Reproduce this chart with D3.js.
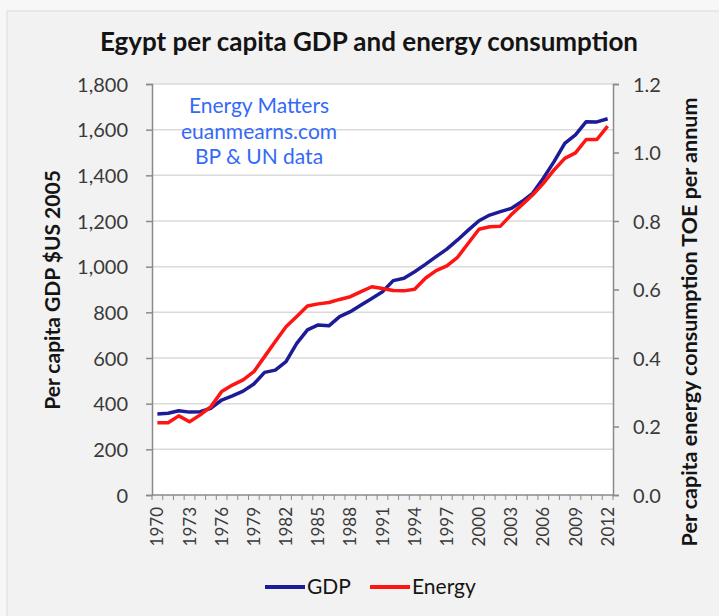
<!DOCTYPE html>
<html>
<head>
<meta charset="utf-8">
<script src="https://cdn.jsdelivr.net/npm/d3@7"></script>
<style>
  body { margin: 0; background: #f7f7f7; }
  text { font-family: Lato, "Open Sans", sans-serif; }
</style>
</head>
<body>
<script>
const years = [1970, 1971, 1972, 1973, 1974, 1975, 1976, 1977, 1978, 1979, 1980, 1981, 1982, 1983, 1984, 1985, 1986, 1987, 1988, 1989, 1990, 1991, 1992, 1993, 1994, 1995, 1996, 1997, 1998, 1999, 2000, 2001, 2002, 2003, 2004, 2005, 2006, 2007, 2008, 2009, 2010, 2011, 2012]
const gdp = [355, 358, 369, 363, 365, 380, 416, 434, 455, 486, 537, 547, 584, 664, 723, 745, 741, 781, 803, 832, 861, 890, 939, 949, 978, 1010, 1044, 1077, 1117, 1160, 1201, 1226, 1241, 1255, 1285, 1321, 1387, 1460, 1540, 1577, 1635, 1634, 1648]
const energy = [0.211, 0.211, 0.231, 0.214, 0.234, 0.258, 0.302, 0.321, 0.336, 0.36, 0.404, 0.448, 0.491, 0.521, 0.552, 0.558, 0.562, 0.571, 0.579, 0.594, 0.608, 0.603, 0.597, 0.596, 0.601, 0.633, 0.655, 0.669, 0.694, 0.735, 0.776, 0.783, 0.785, 0.818, 0.847, 0.876, 0.91, 0.949, 0.983, 0.999, 1.038, 1.038, 1.077]
const yearLabels = [1970, 1973, 1976, 1979, 1982, 1985, 1988, 1991, 1994, 1997, 2000, 2003, 2006, 2009, 2012]
const gdpTicks = [0, 200, 400, 600, 800, 1000, 1200, 1400, 1600, 1800]
const energyTicks = [0, 0.2, 0.4, 0.6, 0.8, 1.0, 1.2]
const notes = ['Energy Matters', 'euanmearns.com', 'BP & UN data']

const width = 719
const height = 616
const plotLeft = 152, plotRight = 613, plotTop = 84, plotBottom = 495
const gdpColor = '#1c1c96'
const energyColor = '#ff1414'

const svg = d3.select('body').append('svg').attr('width', width).attr('height', height)

svg.append('rect').attr('x', 7).attr('y', 11).attr('width', 720).attr('height', 620)
    .attr('fill', '#f2f2f2').attr('stroke', '#dcdcdc')

const x = d3.scaleBand().domain(years).range([plotLeft, plotRight])
const yGdp = d3.scaleLinear().domain([0, 1800]).range([plotBottom, plotTop])
const yEnergy = d3.scaleLinear().domain([0, 1.2]).range([plotBottom, plotTop])

svg.append('rect').attr('x', plotLeft).attr('y', plotTop).attr('width', plotRight - plotLeft).attr('height', plotBottom - plotTop).attr('fill', '#fff')

// gridlines
svg.append('g').selectAll('line').data(gdpTicks.slice(1)).enter().append('line')
    .attr('x1', plotLeft).attr('x2', plotRight)
    .attr('y1', d => yGdp(d)).attr('y2', d => yGdp(d))
    .attr('stroke', '#dadada').attr('stroke-width', 1.5)

const leftAxis = svg.append('g').attr('transform', `translate(${plotLeft},0)`)
    .call(d3.axisLeft(yGdp).tickValues(gdpTicks).tickSize(6).tickPadding(18).tickFormat(d3.format(',')))
const rightAxis = svg.append('g').attr('transform', `translate(${plotRight},0)`)
    .call(d3.axisRight(yEnergy).tickValues(energyTicks).tickSize(6).tickPadding(14).tickFormat(d3.format('.1f')))

;[leftAxis, rightAxis].forEach(a => {
    a.select('.domain').attr('stroke', '#8a8a8a').attr('stroke-width', 1.5)
    a.selectAll('.tick line').attr('stroke', '#8a8a8a').attr('stroke-width', 1.5)
    a.selectAll('.tick text').attr('fill', '#3a3a3a').style('font-size', '20px').attr('dy', '0.36em')
})

// x axis: ticks between categories
const xAxis = svg.append('g')
xAxis.append('line').attr('x1', plotLeft).attr('x2', plotRight).attr('y1', plotBottom).attr('y2', plotBottom)
    .attr('stroke', '#8a8a8a').attr('stroke-width', 1.5)
xAxis.selectAll('line.t').data(years.concat([null])).enter().append('line').attr('class', 't')
    .attr('x1', (d, i) => plotLeft + i * x.step()).attr('x2', (d, i) => plotLeft + i * x.step())
    .attr('y1', plotBottom).attr('y2', plotBottom + 5)
    .attr('stroke', '#8a8a8a').attr('stroke-width', 1)
xAxis.selectAll('text').data(yearLabels).enter().append('text')
    .attr('transform', d => `translate(${x(d) + x.bandwidth() / 2},${plotBottom + 12}) rotate(-90)`)
    .attr('text-anchor', 'end').attr('dy', '0.36em')
    .attr('fill', '#3a3a3a').style('font-size', '17px')
    .text(d => d)

const gdpLine = d3.line().x((d, i) => x(years[i]) + x.bandwidth() / 2).y(d => yGdp(d))
const energyLine = d3.line().x((d, i) => x(years[i]) + x.bandwidth() / 2).y(d => yEnergy(d))

svg.append('path').datum(gdp).attr('d', gdpLine).attr('fill', 'none')
    .attr('stroke', gdpColor).attr('stroke-width', 3.5).attr('stroke-linejoin', 'round')
svg.append('path').datum(energy).attr('d', energyLine).attr('fill', 'none')
    .attr('stroke', energyColor).attr('stroke-width', 3.5).attr('stroke-linejoin', 'round')

svg.append('g').selectAll('text').data(notes).enter().append('text')
    .attr('x', 259).attr('y', (d, i) => 113 + i * 25.5)
    .attr('text-anchor', 'middle').attr('fill', '#346af7').style('font-size', '21px')
    .text(d => d)

svg.append('text').attr('x', 369).attr('y', 51).attr('text-anchor', 'middle')
    .attr('fill', '#141414').style('font-size', '26px').style('font-weight', 'bold')
    .text('Egypt per capita GDP and energy consumption')

svg.append('text').attr('transform', 'translate(60,290) rotate(-90)').attr('text-anchor', 'middle')
    .attr('fill', '#141414').style('font-size', '21px').style('font-weight', 'bold')
    .text('Per capita GDP $US 2005')

svg.append('text').attr('transform', 'translate(697,322) rotate(-90)').attr('text-anchor', 'middle')
    .attr('fill', '#141414').style('font-size', '21.5px').style('font-weight', 'bold')
    .text('Per capita energy consumption TOE per annum')

// legend
const legend = svg.append('g')
const items = [{name: 'GDP', color: gdpColor, x: 265}, {name: 'Energy', color: energyColor, x: 370}]
legend.selectAll('line').data(items).enter().append('line')
    .attr('x1', d => d.x).attr('x2', d => d.x + 40).attr('y1', 587).attr('y2', 587)
    .attr('stroke', d => d.color).attr('stroke-width', 4)
legend.selectAll('text').data(items).enter().append('text')
    .attr('x', d => d.x + 42).attr('y', 594)
    .attr('fill', '#141414').style('font-size', '21px')
    .text(d => d.name)
</script>
</body>
</html>
